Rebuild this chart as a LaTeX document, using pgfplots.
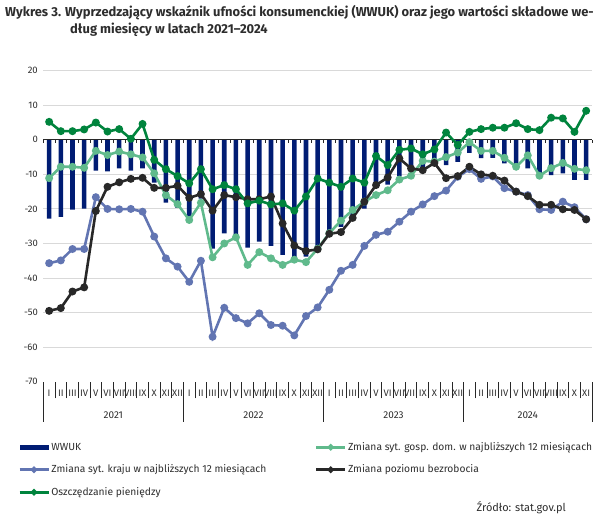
\documentclass[border=0pt]{standalone}
\usepackage{fontspec}
\setmainfont{Fira Sans}
\usepackage{pgfplots}
\usepackage{pgfplotstable}
\pgfplotsset{compat=1.18}

\definecolor{wwuk}{RGB}{0,28,115}
\definecolor{domgr}{RGB}{96,186,140}
\definecolor{kraj}{RGB}{98,117,178}
\definecolor{bezr}{RGB}{40,40,40}
\definecolor{oszcz}{RGB}{0,132,61}
\definecolor{gridc}{RGB}{217,217,217}
\definecolor{txt}{RGB}{45,45,45}

% miesiace 2021-01 .. 2024-11 (x = 0..46)
\pgfplotstableread{
x wwuk dom kraj bezr oszcz
0 -22.8 -11.1 -35.7 -49.5 5.2
1 -22.3 -7.8 -34.9 -48.7 2.5
2 -20.2 -7.8 -31.6 -43.9 2.5
3 -19.9 -8.1 -31.6 -42.7 3.0
4 -8.9 -3.2 -16.6 -20.6 5.0
5 -9.1 -4.4 -20.0 -13.6 2.4
6 -8.3 -3.4 -20.1 -12.3 3.1
7 -8.9 -4.2 -20.0 -11.3 0.3
8 -8.3 -5.1 -20.8 -11.0 4.6
9 -12.4 -9.7 -28.0 -13.9 -5.8
10 -18.2 -16.0 -34.3 -13.9 -8.5
11 -19.7 -18.6 -36.7 -13.3 -10.5
12 -22.2 -23.2 -41.1 -16.8 -12.6
13 -17.0 -18.2 -35.0 -15.7 -8.5
14 -31.5 -34.0 -57.0 -20.5 -14.3
15 -27.1 -30.0 -48.6 -16.0 -13.1
16 -28.6 -28.2 -51.6 -16.6 -14.3
17 -31.2 -36.2 -53.1 -17.2 -18.4
18 -29.5 -32.5 -50.2 -17.2 -17.6
19 -30.7 -34.3 -53.6 -16.4 -18.7
20 -33.3 -36.2 -53.8 -24.2 -18.4
21 -33.9 -34.7 -56.6 -30.6 -20.5
22 -33.8 -35.4 -51.0 -32.2 -16.4
23 -32.4 -31.5 -48.5 -31.7 -11.2
24 -27.1 -27.0 -43.4 -27.2 -12.4
25 -25.2 -23.4 -37.9 -26.7 -13.6
26 -22.3 -20.3 -36.2 -22.6 -11.2
27 -19.9 -17.9 -30.7 -17.9 -12.4
28 -13.6 -16.0 -27.5 -13.1 -4.7
29 -13.0 -14.6 -26.6 -10.9 -7.3
30 -10.5 -11.5 -23.7 -5.4 -2.9
31 -8.8 -10.4 -20.8 -8.3 -2.5
32 -7.8 -6.1 -18.7 -8.8 -4.2
33 -6.4 -6.3 -16.3 -6.7 -2.8
34 -7.3 -5.0 -14.7 -11.1 2.1
35 -6.4 -3.7 -10.7 -10.5 -1.5
36 -3.8 -0.7 -8.5 -7.8 2.3
37 -5.3 -3.2 -11.3 -10.0 3.1
38 -5.2 -3.2 -10.6 -10.4 3.5
39 -6.8 -5.2 -14.0 -11.8 3.5
40 -8.0 -7.8 -15.0 -15.0 4.8
41 -8.3 -4.5 -16.0 -16.3 3.1
42 -10.5 -10.4 -20.1 -18.8 2.8
43 -10.2 -8.2 -20.3 -18.8 6.4
44 -9.7 -6.7 -17.9 -20.1 6.2
45 -11.6 -8.4 -19.5 -20.3 2.3
46 -11.6 -8.8 -23.0 -23.0 8.4
}\dane

\begin{document}
\begin{tikzpicture}
\useasboundingbox (0,0) rectangle (602bp,516bp);
\node[anchor=base west, inner sep=0pt, text=txt, font=\bfseries\fontsize{13}{15}\selectfont] at (5bp,499.3bp)
  {Wykres 3. Wyprzedzający wskaźnik ufności konsumenckiej (WWUK) oraz jego wartości składowe we-};
\node[anchor=base west, inner sep=0pt, text=txt, font=\bfseries\fontsize{13}{15}\selectfont] at (70bp,482bp)
  {dług miesięcy w latach 2021–2024};
\node[anchor=base east, inner sep=0pt, text=txt, font=\fontsize{11}{13}\selectfont] at (566bp,5bp)
  {Źródło: stat.gov.pl};

\begin{axis}[
  at={(43.3bp,134.3bp)}, anchor=south west,
  scale only axis, width=548.7bp, height=311bp,
  xmin=-0.5, xmax=46.5, ymin=-70, ymax=20,
  clip=false,
  axis x line*=bottom, axis y line*=left,
  axis line style={draw=none},
  ytick={-60,-50,-40,-30,-20,-10,0,10,20},
  yticklabels={-60,-50,-40,-30,-20,-10,0,10,20},
  extra y ticks={-70}, extra y tick labels={-70},
  extra y tick style={grid=none},
  ymajorgrids, grid style={gridc, line width=0.9bp},
  ytick style={draw=none},
  ticklabel style={font=\fontsize{9.5}{11}\selectfont, text=txt},
  yticklabel style={xshift=-2bp},
  xtick={0,...,46},
  xticklabels={I,II,III,IV,V,VI,VII,VIII,IX,X,XI,XII,
               I,II,III,IV,V,VI,VII,VIII,IX,X,XI,XII,
               I,II,III,IV,V,VI,VII,VIII,IX,X,XI,XII,
               I,II,III,IV,V,VI,VII,VIII,IX,X,XI},
  xticklabel style={anchor=center, yshift=-11.6bp},
  major tick length=0pt,
  minor xtick={-0.5,0.5,...,46.5},
  minor tick length=16.6bp,
  tick align=outside,
  xtick style={bezr, line width=0.8bp},
  extra x ticks={-0.5,11.5,23.5,35.5,46.5},
  extra x tick labels={},
  extra x tick style={major tick length=40bp, tick align=outside},
  legend columns=2,
  legend cell align=left,
  legend image code/.code={\draw[mark repeat=2, mark phase=2, #1, mark size=1.8bp]
     plot coordinates {(0bp,0bp) (14.5bp,0bp) (29bp,0bp)};},
  legend style={at={(axis description cs:-0.046,-0.19)}, anchor=north west,
    draw=none, fill=none, inner sep=0pt, row sep=10bp,
    font=\fontsize{10.3}{12}\selectfont, text=txt,
    nodes={inner sep=1.5bp},
    /tikz/every even column/.append style={column sep=47bp}},
]
\addplot[ybar, bar width=4.6bp, fill=wwuk, draw=none,
  legend image code/.code={\fill[wwuk] (0bp,-2.4bp) rectangle (29bp,2.4bp);}]
  table[x=x, y=wwuk]{\dane};
\addlegendentry{WWUK}

\draw[bezr, line width=1.2bp] (axis cs:-0.5,0) -- (axis cs:46.5,0);
\pgfplotsinvokeforeach{-0.5,0.5,...,46.5}{\draw[bezr, line width=0.8bp] (axis cs:#1,0) -- (axis cs:#1,-0.8);}

\addplot[domgr, line width=2.6bp, mark=*, mark size=2.6bp] table[x=x, y=dom]{\dane};
\addlegendentry{Zmiana syt. gosp. dom. w najbliższych 12 miesiącach}
\addplot[kraj, line width=2.6bp, mark=*, mark size=2.6bp] table[x=x, y=kraj]{\dane};
\addlegendentry{Zmiana syt. kraju w najbliższych 12 miesiącach}
\addplot[bezr, line width=2.6bp, mark=*, mark size=2.6bp] table[x=x, y=bezr]{\dane};
\addlegendentry{Zmiana poziomu bezrobocia}
\addplot[oszcz, line width=2.6bp, mark=*, mark size=2.6bp] table[x=x, y=oszcz]{\dane};
\addlegendentry{Oszczędzanie pieniędzy}

\node[font=\fontsize{10}{12}\selectfont, text=txt] at (axis cs:5.5,-70) [yshift=-33.3bp] {2021};
\node[font=\fontsize{10}{12}\selectfont, text=txt] at (axis cs:17.5,-70) [yshift=-33.3bp] {2022};
\node[font=\fontsize{10}{12}\selectfont, text=txt] at (axis cs:29.5,-70) [yshift=-33.3bp] {2023};
\node[font=\fontsize{10}{12}\selectfont, text=txt] at (axis cs:41,-70) [yshift=-33.3bp] {2024};
\end{axis}
\end{tikzpicture}
\end{document}
